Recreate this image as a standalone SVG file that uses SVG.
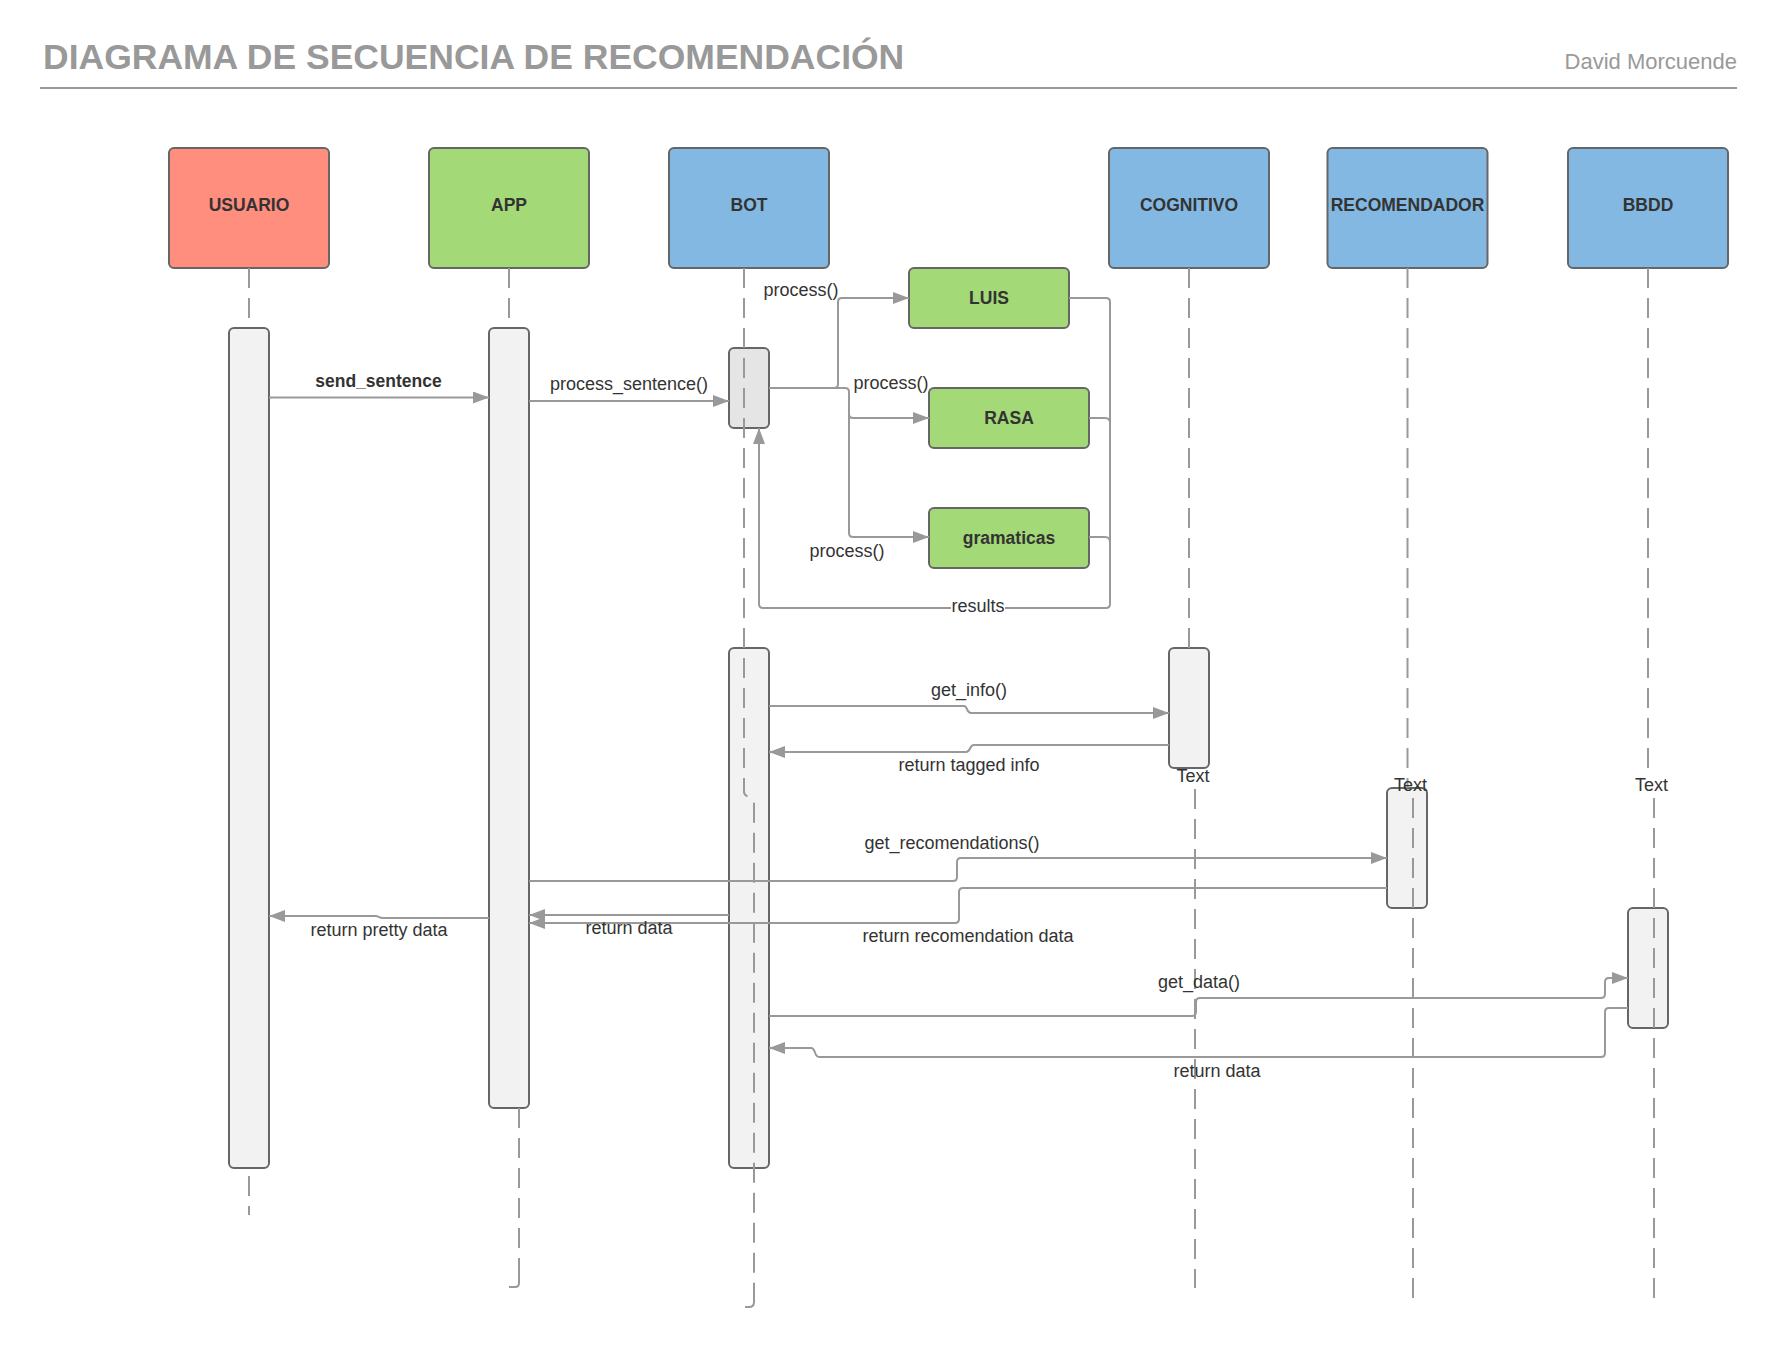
<svg xmlns="http://www.w3.org/2000/svg" width="1777" height="1347" viewBox="0 0 1777 1347">
<style>
.hdr{stroke:#666;stroke-width:2}
.act{fill:#f2f2f2;stroke:#666;stroke-width:2}
.lbl{font-family:"Liberation Sans",Arial,sans-serif;font-size:18px;fill:#333;text-anchor:middle}
.bold{font-family:"Liberation Sans",Arial,sans-serif;font-size:17.5px;font-weight:bold;fill:#333;text-anchor:middle}
.life{fill:none;stroke:#999;stroke-width:2;stroke-dasharray:20 10}
.hook{fill:none;stroke:#999;stroke-width:2}
.con{fill:none;stroke:#999;stroke-width:2}
.arr{marker-end:url(#ah)}
</style>
<defs>
<marker id="ah" markerUnits="userSpaceOnUse" markerWidth="17" markerHeight="13" refX="16" refY="6" orient="auto">
<path d="M0,0 L16,6 L0,12 z" fill="#999"/>
</marker>
</defs>
<rect width="1777" height="1347" fill="#fff"/>
<g id="header">
<text x="43" y="69" style="font-family:'Liberation Sans',Arial,sans-serif;font-size:35.5px;font-weight:bold;fill:#999">DIAGRAMA DE SECUENCIA DE RECOMENDACIÓN</text>
<text x="1737" y="69" style="font-family:'Liberation Sans',Arial,sans-serif;font-size:22px;fill:#999;text-anchor:end">David Morcuende</text>
<line x1="40" y1="88" x2="1737" y2="88" stroke="#999" stroke-width="2"/>
</g>
<g id="usuario"><rect class="hdr" x="169" y="148" width="160" height="120" rx="5" fill="#ff8e7f"/><text class="bold" x="249" y="211">USUARIO</text></g>
<g id="app"><rect class="hdr" x="429" y="148" width="160" height="120" rx="5" fill="#a3d977"/><text class="bold" x="509" y="211">APP</text></g>
<g id="bot"><rect class="hdr" x="669" y="148" width="160" height="120" rx="5" fill="#83b8e2"/><text class="bold" x="749" y="211">BOT</text></g>
<g id="cognitivo"><rect class="hdr" x="1109" y="148" width="160" height="120" rx="5" fill="#83b8e2"/><text class="bold" x="1189" y="211">COGNITIVO</text></g>
<g id="recomendador"><rect class="hdr" x="1327.5" y="148" width="160" height="120" rx="5" fill="#83b8e2"/><text class="bold" x="1407.5" y="211">RECOMENDADOR</text></g>
<g id="bbdd"><rect class="hdr" x="1568" y="148" width="160" height="120" rx="5" fill="#83b8e2"/><text class="bold" x="1648" y="211">BBDD</text></g>
<g id="luis"><rect class="hdr" x="909" y="268" width="160" height="60" rx="5" fill="#a3d977"/><text class="bold" x="989" y="304">LUIS</text></g>
<g id="rasa"><rect class="hdr" x="929" y="388" width="160" height="60" rx="5" fill="#a3d977"/><text class="bold" x="1009" y="424">RASA</text></g>
<g id="gramaticas"><rect class="hdr" x="929" y="508" width="160" height="60" rx="5" fill="#a3d977"/><text class="bold" x="1009" y="544">gramaticas</text></g>
<g id="activations">
<rect id="act-usuario" class="act" x="229" y="328" width="40" height="840" rx="5"/>
<rect id="act-app" class="act" x="489" y="328" width="40" height="780" rx="5"/>
<rect id="act-bot-1" class="act" x="729" y="348" width="40" height="80" rx="5" style="fill:#e5e5e5"/>
<rect id="act-bot-2" class="act" x="729" y="648" width="40" height="520" rx="5"/>
<rect id="act-cognitivo" class="act" x="1169" y="648" width="40" height="120" rx="5"/>
<rect id="act-recomendador" class="act" x="1387" y="788" width="40" height="120" rx="5"/>
<rect id="act-bbdd" class="act" x="1628" y="908" width="40" height="120" rx="5"/>
</g>
<g id="lifelines">
<path class="life" d="M249,268 V328 M249,1176 V1215"/>
<path class="life" d="M509,268 V328"/>
<path class="life" d="M519,1108 V1278"/>
<path class="hook" d="M519,1277 V1283 Q519,1287 515,1287 H509"/>
<path class="life" d="M744,268 V792 C744,798 754,796 754,802 V1298"/>
<path class="hook" d="M754,1296 V1302 Q754,1307 749,1307 H745"/>
<path class="life" d="M1189,268 V648 M1195,789 V1288"/>
<path class="life" d="M1407.5,268 V788 M1413,798 V1307"/>
<path class="life" d="M1648,268 V777 M1654,798 V1307"/>
</g>
<g id="connectors">
<path class="con arr" d="M269,397.5 H489"/>
<path class="con arr" d="M529,401 H729"/>
<path class="con arr" d="M769,388 H834 Q838,388 838,384 V302 Q838,298 842,298 H909"/>
<path class="con arr" d="M769,388 H845 Q849,388 849,392 V414 Q849,418 853,418 H929"/>
<path class="con arr" d="M849,414 V533 Q849,537 853,537 H929"/>
<path class="con" d="M1069,298 H1106 Q1110,298 1110,302 V604 Q1110,608 1106,608 H763 Q759,608 759,604 V430"/>
<path class="con arr" d="M759,440 V428"/>
<path class="con" d="M1089,418 H1105 Q1110,418 1110,423"/>
<path class="con" d="M1089,537 H1105 Q1110,537 1110,542"/>
<path class="con arr" d="M769,706 H964 C968,706 966,713 971,713 H1169"/>
<path class="con arr" d="M1169,745 H974 C969,745 971,752 966,752 H769"/>
<path class="con arr" d="M529,881 H953 Q957,881 957,877 V862 Q957,858 961,858 H1387"/>
<path class="con arr" d="M1387,888 H963 Q959,888 959,892 V919 Q959,923 955,923 H529"/>
<path class="con arr" d="M729,915 H529"/>
<path class="con arr" d="M489,918 H383 C378,918 380,916 375,916 H269"/>
<path class="con arr" d="M769,1016 H1192 Q1196,1016 1196,1012 V1002 Q1196,998 1200,998 H1601 Q1605,998 1605,994 V982 Q1605,978 1609,978 H1628"/>
<path class="con arr" d="M1628,1008 H1609 Q1605,1008 1605,1012 V1053 Q1605,1057 1601,1057 H819 C814,1057 816,1048 811,1048 H769"/>
</g>
<g id="labels">
<text class="bold" x="378.5" y="387">send_sentence</text>
<text class="lbl" x="629" y="390">process_sentence()</text>
<text class="lbl" x="801" y="296">process()</text>
<text class="lbl" x="891" y="389">process()</text>
<text class="lbl" x="847" y="557">process()</text>
<rect x="951" y="597" width="54" height="18" fill="#fff"/>
<text class="lbl" x="978" y="612">results</text>
<text class="lbl" x="969" y="696">get_info()</text>
<text class="lbl" x="969" y="771">return tagged info</text>
<text class="lbl" x="1193" y="782">Text</text>
<text class="lbl" x="1410.5" y="791">Text</text>
<text class="lbl" x="1651.6" y="791">Text</text>
<text class="lbl" x="952" y="849">get_recomendations()</text>
<text class="lbl" x="968" y="942">return recomendation data</text>
<text class="lbl" x="629" y="934">return data</text>
<text class="lbl" x="379" y="936">return pretty data</text>
<text class="lbl" x="1199" y="988">get_data()</text>
<text class="lbl" x="1217" y="1077">return data</text>
</g>
</svg>
